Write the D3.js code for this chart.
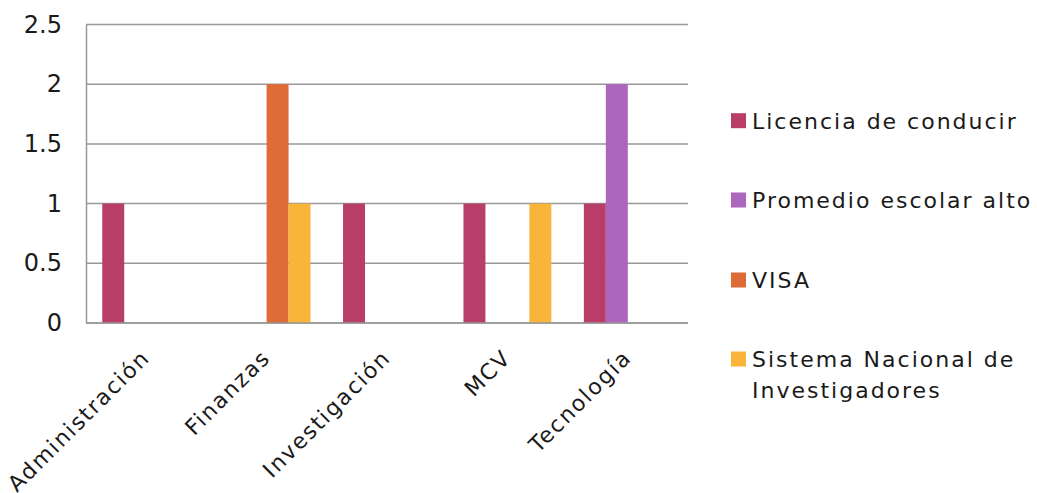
<!DOCTYPE html>
<html>
<head>
<meta charset="utf-8">
<script src="https://cdn.jsdelivr.net/npm/d3@7"></script>
<style>
  body { margin: 0; background: #fff; }
  text { font-family: "DejaVu Sans", sans-serif; fill: #1a1a1a; }
</style>
</head>
<body>
<div id="chart"></div>
<script>
// data
const categories = ["Administración", "Finanzas", "Investigación", "MCV", "Tecnología"];
const seriesNames = ["Licencia de conducir", "Promedio escolar alto", "VISA", "Sistema Nacional de Investigadores"];
const licencia = [1, 0, 1, 1, 1];
const promedio = [0, 0, 0, 0, 2];
const visa = [0, 2, 0, 0, 0];
const sistemaNacional = [0, 1, 0, 1, 0];
const yTicks = [0, 0.5, 1, 1.5, 2, 2.5];

const seriesValues = [licencia, promedio, visa, sistemaNacional];
const colors = ["#b83d68", "#ac66be", "#de6c36", "#f9b53a"];

const width = 1037, height = 493;
const plot = { left: 86, right: 688, top: 24.5, bottom: 323 };

const svg = d3.select("#chart")
    .append("svg")
    .attr("width", width)
    .attr("height", height);

const x0 = d3.scaleBand()
    .domain(categories)
    .range([plot.left, plot.right])
    .padding(0);

const x1 = d3.scaleBand()
    .domain(seriesNames)
    .range([0, x0.bandwidth()])
    .paddingInner(0)
    .paddingOuter(0.74);

const y = d3.scaleLinear()
    .domain([0, 2.5])
    .range([plot.bottom, plot.top]);

// gridlines
svg.append("g")
    .selectAll("line")
    .data(yTicks)
    .join("line")
    .attr("x1", plot.left)
    .attr("x2", plot.right)
    .attr("y1", d => y(d))
    .attr("y2", d => y(d))
    .attr("stroke", "#999")
    .attr("stroke-width", 1.5);

// y axis labels
const yAxis = svg.append("g")
    .attr("transform", `translate(${plot.left},0)`)
    .call(d3.axisLeft(y).tickValues(yTicks).tickSize(0).tickPadding(24).tickFormat(d3.format("")));
yAxis.select(".domain").attr("stroke", "#999").attr("stroke-width", 1.5);
yAxis.selectAll("text")
    .style("font-family", "DejaVu Sans, sans-serif")
    .style("font-size", "24px")
    .attr("fill", "#1a1a1a");

// bars
const rows = [];
categories.forEach((c, i) => {
    seriesNames.forEach((s, j) => {
        rows.push({ cat: c, series: s, value: seriesValues[j][i], color: colors[j] });
    });
});

svg.append("g")
    .selectAll("rect")
    .data(rows)
    .join("rect")
    .attr("x", d => x0(d.cat) + x1(d.series))
    .attr("y", d => y(d.value))
    .attr("width", x1.bandwidth())
    .attr("height", d => y(0) - y(d.value))
    .attr("fill", d => d.color);

// x axis line
svg.append("line")
    .attr("x1", plot.left)
    .attr("x2", plot.right)
    .attr("y1", y(0))
    .attr("y2", y(0))
    .attr("stroke", "#999")
    .attr("stroke-width", 1.5);

// category labels, rotated
svg.append("g")
    .selectAll("text")
    .data(categories)
    .join("text")
    .attr("transform", d => `translate(${x0(d) + x0.bandwidth() / 2 + 5},${plot.bottom + 36}) rotate(-45)`)
    .attr("text-anchor", "end")
    .style("font-size", "22px")
    .style("letter-spacing", "1.8px")
    .text(d => d);

// legend
const legendRows = [
    { lines: ["Licencia de conducir"], y: 120.7 },
    { lines: ["Promedio escolar alto"], y: 200 },
    { lines: ["VISA"], y: 280 },
    { lines: ["Sistema Nacional de", "Investigadores"], y: 359 }
];

const legend = svg.append("g")
    .selectAll("g")
    .data(legendRows)
    .join("g")
    .attr("transform", d => `translate(731,${d.y})`);

legend.append("rect")
    .attr("x", 0)
    .attr("y", -7.5)
    .attr("width", 15)
    .attr("height", 15)
    .attr("fill", (d, i) => colors[i]);

legend.append("text")
    .style("font-size", "22px")
    .style("letter-spacing", "2px")
    .selectAll("tspan")
    .data(d => d.lines)
    .join("tspan")
    .attr("x", 21)
    .attr("y", (d, i) => i * 31)
    .attr("dy", "0.36em")
    .text(d => d);
</script>
</body>
</html>
